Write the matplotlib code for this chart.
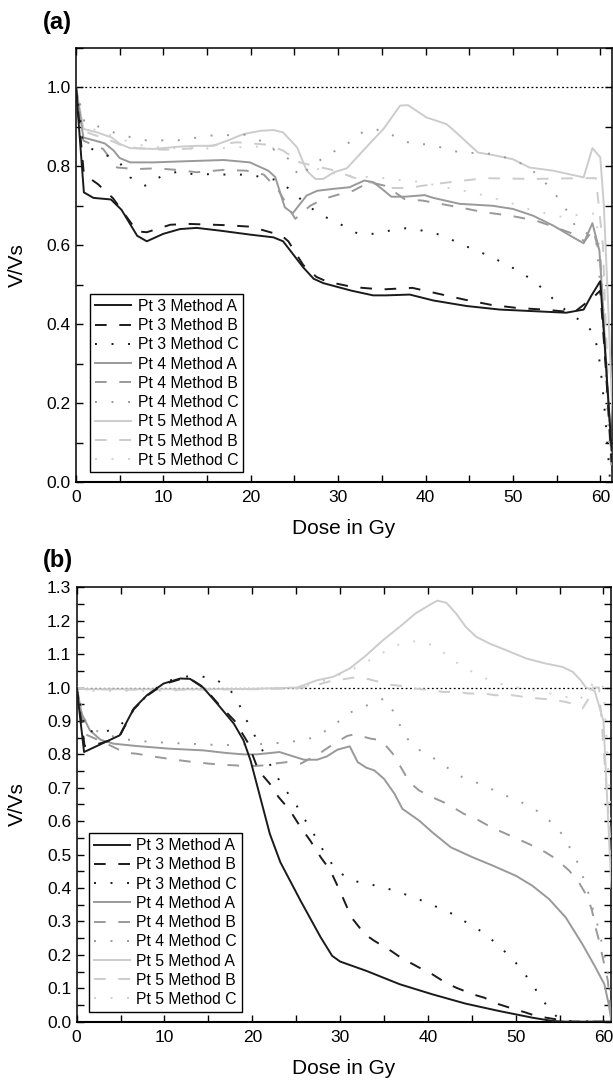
import matplotlib
matplotlib.use("Agg")
import matplotlib.pyplot as plt
from matplotlib.ticker import MultipleLocator, FormatStrFormatter

plt.rcParams['font.family'] = ['Liberation Sans', 'DejaVu Sans']

labels = ['Pt 3 Method A', 'Pt 3 Method B', 'Pt 3 Method C',
          'Pt 4 Method A', 'Pt 4 Method B', 'Pt 4 Method C',
          'Pt 5 Method A', 'Pt 5 Method B', 'Pt 5 Method C']

# ---- panel (a) ----
a_p3A_x = [0, 0.9, 2, 4, 5.2, 7, 8.1, 10, 11.9, 13.8, 16.5, 19.9, 22.6, 23.7, 26, 27.2, 28.3, 31.5, 34, 35.5, 38.2, 40.9, 44.7, 48.5, 52.3, 56.1, 58.1, 59, 60, 60.5, 61.3]
a_p3A_y = [1.0, 0.734, 0.72, 0.716, 0.69, 0.624, 0.61, 0.629, 0.641, 0.644, 0.637, 0.627, 0.62, 0.61, 0.544, 0.515, 0.504, 0.485, 0.473, 0.473, 0.475, 0.46, 0.446, 0.437, 0.433, 0.429, 0.437, 0.473, 0.509, 0.35, 0.08]
a_p3B_x = [0, 0.9, 2.5, 4.2, 5.2, 7, 8.1, 10.8, 13, 17, 20, 23.5, 24.3, 26, 27.5, 28.7, 31.7, 35, 38.5, 41.5, 44.5, 47.5, 50.5, 53.5, 57, 59.2, 60, 60.6, 61.3]
a_p3B_y = [1.0, 0.78, 0.755, 0.72, 0.69, 0.635, 0.633, 0.652, 0.654, 0.651, 0.647, 0.625, 0.61, 0.55, 0.52, 0.508, 0.494, 0.488, 0.492, 0.477, 0.462, 0.449, 0.441, 0.437, 0.43, 0.468, 0.485, 0.3, 0.05]
a_p3C_x = [0, 0.8, 1.6, 3.3, 4.85, 6.2, 7.9, 9.7, 11.7, 13.4, 15.3, 17.3, 19.2, 21, 23, 24.7, 26.5, 28.4, 30.2, 32.2, 34, 35.9, 37.7, 39.7, 41.6, 43.4, 45.3, 47.2, 49, 50.9, 52.8, 54.6, 56.5, 58.4, 59.3, 59.7, 60, 60.4, 60.7, 61, 61.1]
a_p3C_y = [1.0, 0.86, 0.846, 0.83, 0.814, 0.772, 0.751, 0.774, 0.787, 0.78, 0.78, 0.779, 0.779, 0.774, 0.765, 0.738, 0.70, 0.673, 0.654, 0.63, 0.629, 0.637, 0.643, 0.637, 0.627, 0.61, 0.591, 0.574, 0.554, 0.532, 0.502, 0.464, 0.426, 0.40, 0.373, 0.336, 0.295, 0.21, 0.13, 0.04, 0.01]
a_p4A_x = [0, 0.84, 2.2, 3.3, 4.3, 5, 6.2, 8.9, 12.7, 16.9, 19.9, 22, 22.8, 23.9, 24.8, 26.4, 27.6, 29.5, 31.3, 33, 34, 35, 36.1, 37.6, 39.9, 40.9, 43.9, 47.7, 50, 52.3, 54.6, 56.9, 58.1, 59.1, 59.9, 60.3, 60.8, 61.4]
a_p4A_y = [1.0, 0.873, 0.865, 0.858, 0.84, 0.821, 0.81, 0.81, 0.813, 0.816, 0.81, 0.789, 0.773, 0.696, 0.681, 0.726, 0.738, 0.743, 0.747, 0.764, 0.76, 0.743, 0.723, 0.723, 0.727, 0.72, 0.705, 0.70, 0.692, 0.675, 0.65, 0.62, 0.605, 0.656, 0.587, 0.452, 0.24, 0.055]
a_p4B_x = [0, 0.84, 3.1, 4.7, 6.9, 9.2, 11.5, 13.8, 16.9, 19.5, 21.5, 23.2, 24.5, 25.1, 26.8, 28.3, 29.8, 31.7, 33.6, 35.5, 37.6, 39.7, 43.9, 46.6, 49.7, 52.7, 55.4, 56.9, 58.2, 59.2, 60, 60.5, 61.3]
a_p4B_y = [1.0, 0.865, 0.844, 0.797, 0.793, 0.795, 0.791, 0.785, 0.791, 0.789, 0.779, 0.738, 0.688, 0.667, 0.70, 0.717, 0.727, 0.738, 0.76, 0.75, 0.717, 0.713, 0.696, 0.684, 0.675, 0.662, 0.641, 0.629, 0.61, 0.64, 0.57, 0.35, 0.03]
a_p4C_x = [0, 1, 2.7, 5, 8, 11.7, 15.5, 19.3, 21, 22.8, 24.6, 25.5, 27.3, 29.1, 31.1, 33, 34.8, 36.7, 38.5, 40.4, 42.3, 44.1, 46.1, 47.9, 49.8, 51.7, 53.5, 55.1, 56.4, 57.3, 58.5, 59.5, 60.2, 60.8, 61.3]
a_p4C_y = [1.0, 0.91, 0.90, 0.88, 0.866, 0.866, 0.878, 0.88, 0.866, 0.84, 0.815, 0.773, 0.807, 0.832, 0.858, 0.89, 0.893, 0.874, 0.856, 0.856, 0.845, 0.834, 0.834, 0.831, 0.818, 0.80, 0.764, 0.722, 0.681, 0.641, 0.63, 0.62, 0.45, 0.2, 0.02]
a_p5A_x = [0, 0.84, 2.4, 4.1, 5, 6.2, 8.9, 11.9, 13.8, 15.7, 17.3, 19.2, 21.1, 22.6, 23.7, 25.3, 26.4, 27.4, 28.3, 29.5, 31, 33.2, 35.2, 37.1, 38, 40.1, 42.4, 43.5, 46, 48.1, 50, 51.9, 54.6, 58.1, 59.1, 60, 60.4, 60.9, 61.5]
a_p5A_y = [1.0, 0.895, 0.886, 0.873, 0.857, 0.846, 0.844, 0.85, 0.852, 0.852, 0.865, 0.882, 0.89, 0.892, 0.886, 0.848, 0.789, 0.768, 0.768, 0.785, 0.795, 0.848, 0.895, 0.954, 0.955, 0.924, 0.907, 0.886, 0.835, 0.827, 0.818, 0.797, 0.789, 0.772, 0.846, 0.823, 0.705, 0.45, 0.11]
a_p5B_x = [0, 0.8, 2, 3.5, 5, 7, 10, 13, 15.3, 18.4, 20.1, 21.8, 23.7, 25.6, 27.5, 29.5, 31.7, 33.5, 36.3, 38, 39.7, 43.5, 46.9, 52.3, 57.7, 59.5, 60.3, 61.2]
a_p5B_y = [1.0, 0.89, 0.88, 0.87, 0.855, 0.846, 0.842, 0.845, 0.852, 0.861, 0.858, 0.855, 0.84, 0.81, 0.80, 0.79, 0.772, 0.76, 0.745, 0.745, 0.751, 0.762, 0.77, 0.768, 0.77, 0.77, 0.6, 0.05]
a_p5C_x = [0, 1, 2.6, 5, 8, 12, 16, 20, 22, 24, 26, 28, 30, 32, 35.3, 37.1, 39.6, 41.5, 44, 47, 50, 52, 54, 56, 58, 59.5, 60.3, 61]
a_p5C_y = [1.0, 0.9, 0.89, 0.87, 0.85, 0.845, 0.845, 0.85, 0.85, 0.835, 0.81, 0.79, 0.78, 0.775, 0.77, 0.765, 0.76, 0.75, 0.74, 0.725, 0.705, 0.69, 0.68, 0.67, 0.68, 0.68, 0.5, 0.1]

# ---- panel (b) ----
b_p3A_x = [0, 0.84, 4.9, 6.5, 8, 9.9, 11.8, 12.9, 14.4, 16, 17.9, 19, 19.8, 20.9, 22, 23.2, 25.5, 27.8, 29.1, 30, 33, 36.8, 40.5, 44.3, 48.1, 51.9, 54.2, 55.7, 60.9]
b_p3A_y = [1.0, 0.807, 0.857, 0.937, 0.977, 1.012, 1.027, 1.026, 1.0, 0.952, 0.892, 0.842, 0.782, 0.672, 0.562, 0.477, 0.362, 0.252, 0.197, 0.18, 0.152, 0.112, 0.082, 0.054, 0.032, 0.012, 0.002, 0.0, 0.0]
b_p3B_x = [0, 0.9, 2.3, 4.2, 5, 6.5, 8, 9.9, 11.8, 13, 14.5, 16, 18, 19.5, 20.7, 22, 23, 24.3, 25.5, 26.6, 27.8, 28.9, 30, 31.3, 32.8, 33.9, 35.8, 36.9, 39, 40.2, 42, 43.2, 45.1, 46.4, 48.1, 49.3, 51.2, 52.3, 54.6, 55.7, 60.9]
b_p3B_y = [1.0, 0.825, 0.83, 0.845, 0.86, 0.935, 0.975, 1.01, 1.025, 1.025, 1.0, 0.955, 0.9, 0.835, 0.752, 0.712, 0.672, 0.632, 0.582, 0.542, 0.492, 0.452, 0.39, 0.312, 0.262, 0.242, 0.212, 0.192, 0.162, 0.147, 0.117, 0.102, 0.082, 0.072, 0.052, 0.042, 0.027, 0.017, 0.007, 0.0, 0.0]
b_p3C_x = [0, 1, 3.2, 4.9, 6.5, 8.2, 10.1, 12, 13.7, 15.7, 17.4, 18.6, 19.5, 20.5, 21.5, 22.5, 23.7, 25, 26.1, 27.3, 28.3, 29.6, 31.4, 33.3, 35.2, 37, 38.9, 40.7, 42.6, 44.4, 46.3, 48.1, 49.9, 51.4, 52.7, 54, 55.3, 60.9]
b_p3C_y = [1.0, 0.87, 0.867, 0.884, 0.935, 0.982, 1.017, 1.032, 1.035, 1.027, 0.997, 0.944, 0.894, 0.845, 0.795, 0.746, 0.697, 0.649, 0.60, 0.549, 0.502, 0.452, 0.422, 0.412, 0.40, 0.385, 0.367, 0.347, 0.325, 0.297, 0.267, 0.227, 0.18, 0.13, 0.08, 0.03, 0.002, 0.0]
b_p4A_x = [0, 0.57, 1.5, 2.7, 4.2, 6.8, 10.6, 14.4, 17.1, 19, 20.5, 22, 23.1, 24.3, 25.9, 27.4, 28.5, 29.7, 31.1, 32, 33, 33.9, 35, 36.2, 37.1, 39, 40.5, 42.6, 45.1, 47.4, 50, 51.9, 53.8, 55.7, 57.6, 59.1, 60.1, 60.6, 60.9]
b_p4A_y = [1.0, 0.922, 0.872, 0.844, 0.832, 0.825, 0.817, 0.812, 0.804, 0.80, 0.80, 0.804, 0.807, 0.797, 0.784, 0.784, 0.794, 0.814, 0.824, 0.777, 0.76, 0.752, 0.727, 0.682, 0.637, 0.602, 0.567, 0.522, 0.492, 0.467, 0.437, 0.407, 0.367, 0.312, 0.232, 0.162, 0.112, 0.052, 0.002]
b_p4B_x = [0, 1, 3.4, 5.5, 6.8, 8.6, 9.9, 11.8, 13.3, 15.2, 16.5, 18.1, 19.4, 21.3, 22.4, 24, 25.5, 27.5, 29.3, 30.8, 31.6, 33.5, 34.7, 36, 36.8, 37.9, 39, 40.9, 42.2, 44.1, 45.5, 47.2, 48.5, 50.2, 51.5, 53.4, 54.6, 56.1, 57.2, 58.2, 58.7, 59.1, 59.5, 60.5, 60.9]
b_p4B_y = [1.0, 0.86, 0.832, 0.805, 0.802, 0.794, 0.789, 0.782, 0.777, 0.772, 0.769, 0.767, 0.764, 0.767, 0.772, 0.777, 0.772, 0.80, 0.832, 0.855, 0.86, 0.847, 0.842, 0.802, 0.767, 0.717, 0.692, 0.667, 0.652, 0.622, 0.607, 0.582, 0.567, 0.547, 0.532, 0.507, 0.487, 0.452, 0.417, 0.372, 0.332, 0.282, 0.242, 0.122, 0.0]
b_p4C_x = [0, 1, 1.7, 3, 5.1, 7, 8.9, 10.8, 12.7, 14.6, 16.5, 18.4, 20.3, 22.1, 24, 25.9, 27.6, 29.4, 31.3, 33.1, 35, 36.4, 37.1, 38.4, 40.2, 42.1, 43.9, 45.9, 47.6, 49.5, 51.4, 53.2, 55, 56.1, 57.1, 57.8, 58.4, 58.9, 59.5, 59.9, 60.3, 60.6, 60.9]
b_p4C_y = [1.0, 0.90, 0.877, 0.862, 0.847, 0.84, 0.837, 0.834, 0.832, 0.83, 0.827, 0.83, 0.83, 0.832, 0.837, 0.842, 0.857, 0.89, 0.927, 0.947, 0.967, 0.917, 0.867, 0.822, 0.797, 0.762, 0.732, 0.712, 0.692, 0.669, 0.648, 0.618, 0.572, 0.524, 0.474, 0.424, 0.376, 0.326, 0.274, 0.224, 0.174, 0.124, 0.05]
b_p5A_x = [0, 1, 5, 10, 15, 20, 25.1, 27.4, 29.2, 31.1, 33, 34.9, 36.8, 38.6, 40.5, 41.1, 42.1, 43.2, 44.3, 45.5, 47, 48.9, 51.2, 53.4, 55.3, 56.5, 57.4, 58, 59, 60, 60.9]
b_p5A_y = [1.0, 0.995, 0.995, 0.995, 0.995, 0.996, 1.0, 1.022, 1.032, 1.057, 1.097, 1.142, 1.182, 1.222, 1.252, 1.26, 1.254, 1.222, 1.182, 1.152, 1.132, 1.112, 1.087, 1.072, 1.062, 1.047, 1.022, 1.0, 0.99, 0.9, 0.4]
b_p5B_x = [0, 1, 5, 10, 15, 20, 25, 27, 29, 30.9, 32.2, 35.8, 37.3, 38.5, 40.4, 41.7, 43.4, 44.7, 46.4, 47.7, 49.6, 51, 52.7, 54, 55.7, 57, 57.6, 58.2, 58.6, 59.5, 60.9]
b_p5B_y = [1.0, 0.995, 0.994, 0.993, 0.994, 0.995, 0.997, 1.005, 1.02, 1.027, 1.032, 1.008, 1.004, 0.997, 0.992, 0.987, 0.987, 0.982, 0.982, 0.977, 0.977, 0.972, 0.967, 0.964, 0.957, 0.947, 0.937, 0.962, 1.0, 1.0, 0.5]
b_p5C_x = [0, 1, 5, 10, 15, 20, 25, 27, 29.2, 31.6, 33.5, 35.4, 37.3, 39.1, 41, 42.8, 44.7, 46.6, 48.4, 50.2, 52.1, 54, 55.7, 57.2, 58.2, 59.1, 60, 60.9]
b_p5C_y = [1.0, 0.99, 0.99, 0.99, 0.995, 0.995, 1.0, 1.01, 1.03, 1.057, 1.084, 1.112, 1.137, 1.139, 1.122, 1.082, 1.052, 1.027, 1.01, 1.0, 0.992, 0.982, 0.972, 0.962, 0.99, 1.024, 1.0, 0.6]

colors = ['#1a1a1a', '#1a1a1a', '#1a1a1a', '#999999', '#999999', '#999999', '#cccccc', '#cccccc', '#d0d0d0']
dash_a = (None, (6, 6.5), (1, 7.5))

fig = plt.figure(figsize=(6.13, 10.8), dpi=100)
ax_a = fig.add_axes([0.124, 0.5537, 0.8736, 0.4019])
ax_b = fig.add_axes([0.1251, 0.054, 0.8721, 0.4022])

series_a = [(a_p3A_x, a_p3A_y), (a_p3B_x, a_p3B_y), (a_p3C_x, a_p3C_y),
            (a_p4A_x, a_p4A_y), (a_p4B_x, a_p4B_y), (a_p4C_x, a_p4C_y),
            (a_p5A_x, a_p5A_y), (a_p5B_x, a_p5B_y), (a_p5C_x, a_p5C_y)]
series_b = [(b_p3A_x, b_p3A_y), (b_p3B_x, b_p3B_y), (b_p3C_x, b_p3C_y),
            (b_p4A_x, b_p4A_y), (b_p4B_x, b_p4B_y), (b_p4C_x, b_p4C_y),
            (b_p5A_x, b_p5A_y), (b_p5B_x, b_p5B_y), (b_p5C_x, b_p5C_y)]


def draw(ax, series, xmax, ymax, ymaj, ymin, anchor, tag, tag_y):
    # reference line at V/Vs = 1
    ax.axhline(1.0, color='black', lw=0.9, dashes=(1.5, 2), zorder=1)
    order = [8, 7, 6, 5, 4, 3, 2, 1, 0]
    for i in order:
        x, y = series[i]
        line, = ax.plot(x, y, color=colors[i], lw=1.4, label=labels[i], zorder=2 + (9 - i))
        d = dash_a[i % 3]
        if d is not None:
            line.set_dashes(d)
    ax.set_xlim(0, xmax)
    ax.set_ylim(0, ymax)
    ax.xaxis.set_major_locator(MultipleLocator(10))
    ax.xaxis.set_minor_locator(MultipleLocator(5))
    ax.yaxis.set_major_locator(MultipleLocator(ymaj))
    ax.yaxis.set_minor_locator(MultipleLocator(ymin))
    ax.yaxis.set_major_formatter(FormatStrFormatter('%.1f'))
    ax.tick_params(which='both', direction='in', top=True, right=True, length=5, width=1)
    ax.tick_params(axis='x', labelsize=12.5, pad=6)
    ax.tick_params(axis='y', labelsize=12.5, pad=4)
    for s in ax.spines.values():
        s.set_linewidth(1.1)
    ax.spines['bottom'].set_linewidth(1.5)
    ax.set_xlabel('Dose in Gy', fontsize=15, labelpad=10)
    ax.set_ylabel('V/Vs', fontsize=15, labelpad=14)
    h, l = ax.get_legend_handles_labels()
    h = h[::-1]
    l = l[::-1]
    leg = ax.legend(h, l, loc='lower left', bbox_to_anchor=anchor, borderaxespad=0,
                    fontsize=11.3, labelspacing=0.27, handlelength=2.3, handletextpad=0.4,
                    borderpad=0.3, fancybox=False, framealpha=1, edgecolor='black')
    leg.get_frame().set_linewidth(1.0)
    fig.text(43 / 613, tag_y, tag, fontsize=17, fontweight='bold', va='center', ha='left')


draw(ax_a, series_a, 61.29, 1.1, 0.2, 0.1, (0.027, 0.022), '(a)', 1 - 22 / 1080)
draw(ax_b, series_b, 60.89, 1.3, 0.1, 0.05, (0.0236, 0.023), '(b)', 1 - 560 / 1080)

fig.savefig('out.png', dpi=100)
